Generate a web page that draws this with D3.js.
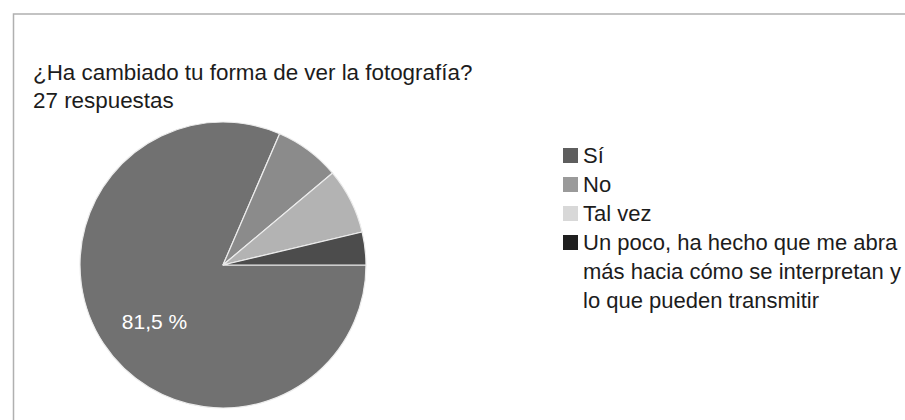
<!DOCTYPE html>
<html>
<head>
<meta charset="utf-8">
<script src="https://cdn.jsdelivr.net/npm/d3@7/dist/d3.min.js"></script>
<style>
  html, body { margin: 0; padding: 0; background: #fff; }
  svg { display: block; font-family: "Liberation Sans", Arial, Helvetica, sans-serif; }
</style>
</head>
<body>
<svg id="chart" width="905" height="420"></svg>
<script>
// Survey answers
const categories = ["Sí", "No", "Tal vez", "Un poco, ha hecho que me abra más hacia cómo se interpretan y lo que pueden transmitir"];
const counts = [22, 2, 2, 1];
const legendLines = [
  ["Sí"],
  ["No"],
  ["Tal vez"],
  ["Un poco, ha hecho que me abra", "más hacia cómo se interpretan y", "lo que pueden transmitir"]
];
const sliceColors = ["#717171", "#8b8b8b", "#b3b3b3", "#4c4c4c"];
const legendColors = ["#5e5e5e", "#9a9a9a", "#d8d8d8", "#1f1f1f"];
const titleText = "¿Ha cambiado tu forma de ver la fotografía?";
const subtitleText = "27 respuestas";

const svg = d3.select("#chart");
const total = d3.sum(counts);

// card frame (top and left edges visible)
svg.append("path")
  .attr("d", "M13.5,420 V14 H905")
  .attr("fill", "none")
  .attr("stroke", "#b0b0b0")
  .attr("stroke-width", 1.5);

svg.append("text")
  .attr("x", 33).attr("y", 80)
  .attr("font-size", 22.4).attr("fill", "#1c1c1c")
  .text(titleText);

svg.append("text")
  .attr("x", 33).attr("y", 108)
  .attr("font-size", 22.4).attr("fill", "#1c1c1c")
  .text(subtitleText);

// pie, starting at 3 o'clock and running clockwise
const cx = 223, cy = 265, r = 143;
const pie = d3.pie().sort(null).value(d => d)
  .startAngle(Math.PI / 2).endAngle(Math.PI / 2 + 2 * Math.PI);
const arcs = pie(counts);
const arc = d3.arc().innerRadius(0).outerRadius(r);
const labelArc = d3.arc().innerRadius(r * 0.64).outerRadius(r * 0.64);

const g = svg.append("g").attr("transform", `translate(${cx},${cy})`);
g.selectAll("path.slice")
  .data(arcs)
  .join("path")
  .attr("class", "slice")
  .attr("d", arc)
  .attr("fill", (d, i) => sliceColors[i])
  .attr("stroke", "#ececec")
  .attr("stroke-width", 1.2);

const pctFmt = v => (v * 100).toFixed(1).replace(".", ",") + " %";
g.selectAll("text.pct")
  .data(arcs.filter(d => d.value / total > 0.1))
  .join("text")
  .attr("class", "pct")
  .attr("transform", d => {
    const [x, y] = labelArc.centroid(d);
    return `translate(${x + 8},${y + 6})`;
  })
  .attr("text-anchor", "middle")
  .attr("dominant-baseline", "central")
  .attr("font-size", 21)
  .attr("fill", "#ffffff")
  .text(d => pctFmt(d.value / total));

// legend
const legend = svg.append("g").attr("transform", "translate(563,148)");
const rowStep = 29, lineStep = 29, box = 15;
let yOff = 0;
legendLines.forEach((lines, i) => {
  const row = legend.append("g").attr("transform", `translate(0,${yOff})`);
  row.append("rect")
    .attr("width", box).attr("height", box)
    .attr("fill", legendColors[i]);
  const t = row.append("text")
    .attr("x", 20).attr("y", 15)
    .attr("font-size", 22).attr("fill", "#1c1c1c");
  lines.forEach((ln, j) => {
    t.append("tspan").attr("x", 20).attr("dy", j === 0 ? 0 : lineStep).text(ln);
  });
  yOff += rowStep;
});
</script>
</body>
</html>
